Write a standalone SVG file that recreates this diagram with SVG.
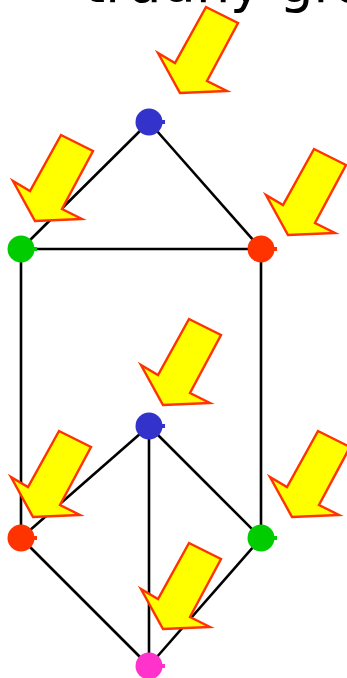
<svg xmlns="http://www.w3.org/2000/svg" xmlns:xlink="http://www.w3.org/1999/xlink" width="347" height="678" viewBox="0 0 347 678">
<style>
.edge{stroke:#000;stroke-width:2.6;fill:none}
.arrow{fill:#ffff00;stroke:#ff3300;stroke-width:2.4;stroke-linejoin:miter}
.title{font-family:"DejaVu Sans",sans-serif;font-size:54px;fill:#000}
</style>
<defs>
<path id="arr" d="M0,0 L47,-2 L27,-12 L58,-70 L26,-86 L-5,-30 L-22,-40 Z"/>
</defs>
<rect width="347" height="678" fill="#fff"/>
<text class="title" x="84" y="2">trudny graf</text>
<g id="connectors">
<line class="edge" x1="149" y1="122" x2="21" y2="249"/>
<line class="edge" x1="149" y1="122" x2="261" y2="249"/>
<line class="edge" x1="21" y1="249" x2="261" y2="249"/>
<line class="edge" x1="21" y1="249" x2="21" y2="538"/>
<line class="edge" x1="261" y1="249" x2="261" y2="538"/>
<line class="edge" x1="149" y1="426" x2="21" y2="538"/>
<line class="edge" x1="149" y1="426" x2="261" y2="538"/>
<line class="edge" x1="149" y1="426" x2="149" y2="666"/>
<line class="edge" x1="21" y1="538" x2="149" y2="666"/>
<line class="edge" x1="261" y1="538" x2="149" y2="666"/>
</g>
<g id="n1"><circle cx="149" cy="122" r="13.5" fill="#3333cc"/><rect x="161" y="120" width="4" height="4" fill="#3333cc"/></g>
<g id="n2"><circle cx="21" cy="249" r="13.5" fill="#00cc00"/><rect x="33" y="247" width="4" height="4" fill="#00cc00"/></g>
<g id="n3"><circle cx="261" cy="249" r="13.5" fill="#ff3300"/><rect x="273" y="247" width="4" height="4" fill="#ff3300"/></g>
<g id="n4"><circle cx="149" cy="426" r="13.5" fill="#3333cc"/><rect x="161" y="424" width="4" height="4" fill="#3333cc"/></g>
<g id="n5"><circle cx="21" cy="538" r="13.5" fill="#ff3300"/><rect x="33" y="536" width="4" height="4" fill="#ff3300"/></g>
<g id="n6"><circle cx="261" cy="538" r="13.5" fill="#00cc00"/><rect x="273" y="536" width="4" height="4" fill="#00cc00"/></g>
<g id="n7"><circle cx="149" cy="666" r="13.5" fill="#ff33cc"/><rect x="161" y="664" width="4" height="4" fill="#ff33cc"/></g>
<g id="arrows">
<use xlink:href="#arr" class="arrow" transform="translate(180,93)"/>
<use xlink:href="#arr" class="arrow" transform="translate(35,221)"/>
<use xlink:href="#arr" class="arrow" transform="translate(288,235)"/>
<use xlink:href="#arr" class="arrow" transform="translate(163,405)"/>
<use xlink:href="#arr" class="arrow" transform="translate(33,517)"/>
<use xlink:href="#arr" class="arrow" transform="translate(292,517)"/>
<use xlink:href="#arr" class="arrow" transform="translate(163,629)"/>
</g>
</svg>
